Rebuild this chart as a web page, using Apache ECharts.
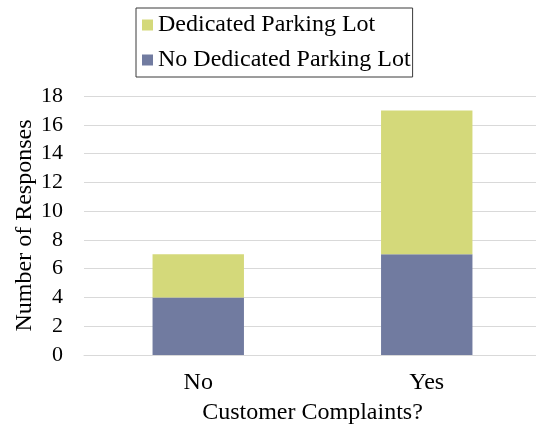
<!DOCTYPE html>
<html>
<head>
<meta charset="utf-8">
<script src="https://cdn.jsdelivr.net/npm/echarts@6/dist/echarts.min.js"></script>
<style>
  html, body { margin: 0; padding: 0; background: #fff; }
  #chart { width: 536px; height: 428px; }
</style>
</head>
<body>
<div id="chart"></div>
<script>
// data
const categories = ['No', 'Yes'];
const noDedicated = [4, 7];
const dedicated = [3, 10];
const yTicks = { min: 0, max: 18, interval: 2 };

const serif = 'Liberation Serif';
const fs = 24;
const chart = echarts.init(document.getElementById('chart'));

chart.setOption({
    backgroundColor: '#ffffff',
    animation: false,
    legend: {
        data: ['Dedicated Parking Lot', 'No Dedicated Parking Lot'],
        orient: 'vertical',
        left: 136,
        top: 8,
        padding: [5, 2, 5, 6],
        itemGap: 11,
        itemWidth: 11,
        itemHeight: 11,
        icon: 'rect',
        borderColor: '#3a3a3a',
        borderWidth: 1,
        textStyle: { fontFamily: serif, fontSize: fs, color: '#000' }
    },
    // plot area runs past the right edge, as in the reference
    grid: { left: 84, top: 96, width: 457, height: 259, outerBoundsMode: 'none', containLabel: false },
    xAxis: {
        type: 'category',
        data: categories,
        name: 'Customer Complaints?',
        nameLocation: 'middle',
        nameGap: 46,
        nameTextStyle: { fontFamily: serif, fontSize: fs, color: '#000' },
        axisLine: { lineStyle: { color: '#d9d9d9' } },
        axisTick: { show: false },
        axisLabel: { fontFamily: serif, fontSize: fs, color: '#000', margin: 16 }
    },
    yAxis: {
        type: 'value',
        min: yTicks.min,
        max: yTicks.max,
        interval: yTicks.interval,
        name: 'Number of Responses',
        nameLocation: 'middle',
        nameGap: 47,
        nameMoveOverlap: false,
        nameTextStyle: { fontFamily: serif, fontSize: fs, color: '#000' },
        axisLine: { show: false },
        axisTick: { show: false },
        axisLabel: { fontFamily: serif, fontSize: 22, color: '#000', margin: 21 },
        splitLine: { lineStyle: { color: '#d9d9d9' } }
    },
    series: [
        {
            name: 'No Dedicated Parking Lot',
            type: 'bar',
            stack: 'total',
            data: noDedicated,
            barWidth: '40%',
            itemStyle: { color: '#717ba0' }
        },
        {
            name: 'Dedicated Parking Lot',
            type: 'bar',
            stack: 'total',
            data: dedicated,
            barWidth: '40%',
            itemStyle: { color: '#d4d97a' }
        }
    ]
});
</script>
</body>
</html>
